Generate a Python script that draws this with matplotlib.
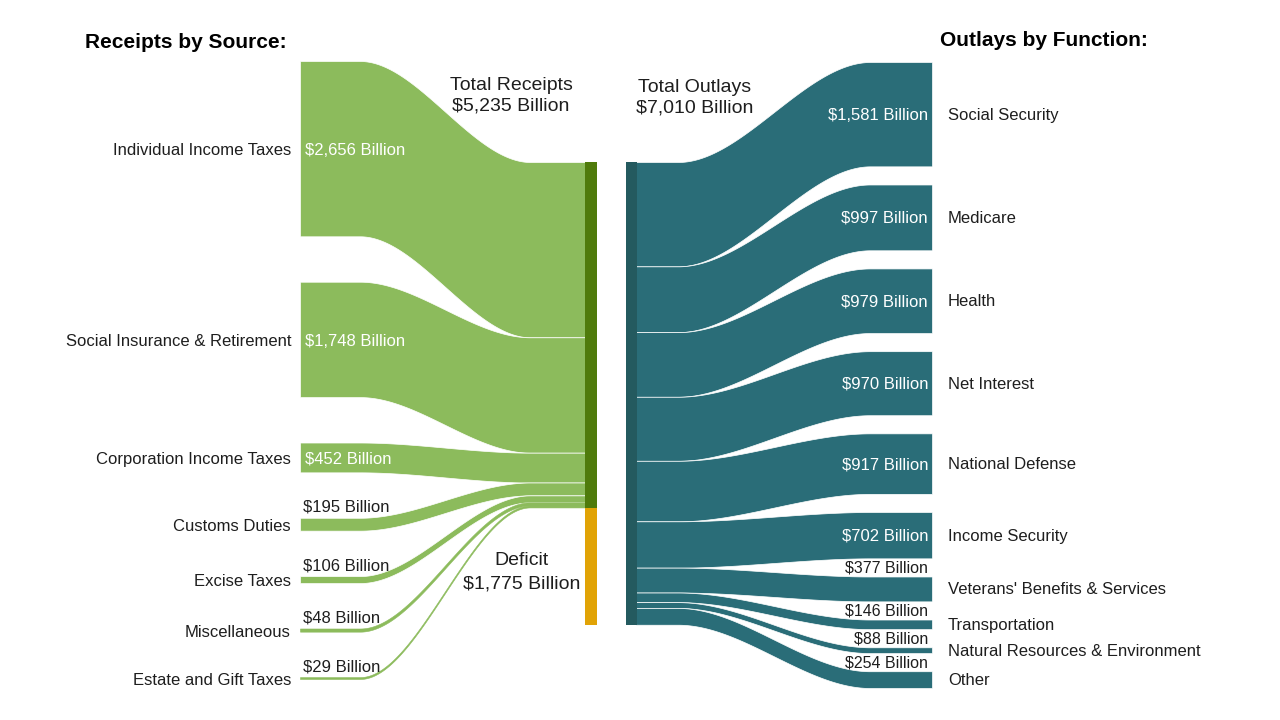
import numpy as np
import matplotlib
matplotlib.use('Agg')
import matplotlib.pyplot as plt

plt.rcParams['font.family'] = ['Liberation Sans', 'DejaVu Sans']

# data (billions of dollars)
receipt_labels = ['Individual Income Taxes', 'Social Insurance & Retirement', 'Corporation Income Taxes',
                  'Customs Duties', 'Excise Taxes', 'Miscellaneous', 'Estate and Gift Taxes']
receipt_values = [2656, 1748, 452, 195, 106, 48, 29]

outlay_labels = ['Social Security', 'Medicare', 'Health', 'Net Interest', 'National Defense',
                 'Income Security', "Veterans' Benefits & Services", 'Transportation',
                 'Natural Resources & Environment', 'Other']
outlay_values = [1581, 997, 979, 970, 917, 702, 377, 146, 88, 254]

total_receipts = 5235
total_outlays = 7010
deficit = 1775

GREEN = '#8cbb5c'
GREEN_BAR = '#4f7b0b'
ORANGE = '#e1a306'
TEAL = '#2a6d78'
TEAL_BAR = '#245a5f'
TXT = '#1e1e1e'

SCALE = 0.066        # pixels per billion
BAR_TOP = 162


def fmt(v):
    return '${:,} Billion'.format(v)


def smooth(x, x0, x1, y0, y1):
    t = np.clip((x - x0) / (x1 - x0), 0, 1)
    t = t * t * (3 - 2 * t)
    return y0 + (y1 - y0) * t


def stack_outer(values, top, bottom):
    h = np.array(values) * SCALE
    gap = (bottom - top - h.sum()) / (len(h) - 1)
    y = top + np.concatenate([[0], np.cumsum(h[:-1])]) + gap * np.arange(len(h))
    return y, h


def stack_bar(values):
    h = np.array(values) * SCALE
    return BAR_TOP + np.concatenate([[0], np.cumsum(h[:-1])])


def band(xs, top, h, color):
    # thin bands get no white outline so they stay visible
    if h > 4:
        ax.fill_between(xs, top, top + h, color=color, edgecolor='white', linewidth=0.5)
    else:
        ax.fill_between(xs, top, top + h, color=color, edgecolor=color, linewidth=0.4)


fig = plt.figure(figsize=(12.8, 7.2), dpi=100)
ax = fig.add_axes([0, 0, 1, 1])
ax.set_xlim(0, 1280)
ax.set_ylim(720, 0)
ax.axis('off')

# receipts side
ly, lh = stack_outer(receipt_values, 61, 679)
lb = stack_bar(receipt_values)
xs = np.linspace(300, 585, 300)
for i, lab in enumerate(receipt_labels):
    top = smooth(xs, 360, 530, ly[i], lb[i])
    band(xs, top, lh[i], GREEN)
    yc = ly[i] + lh[i] / 2
    ax.text(291, yc + 2, lab, ha='right', va='center', fontsize=12, color=TXT)
    if lh[i] > 26:
        ax.text(305, yc + 2, fmt(receipt_values[i]), ha='left', va='center', fontsize=12, color='white')
    else:
        ax.text(303, ly[i] - 3, fmt(receipt_values[i]), ha='left', va='bottom', fontsize=12, color=TXT)

# receipts + deficit bar
rec_h = total_receipts * SCALE
def_h = deficit * SCALE
ax.add_patch(plt.Rectangle((585, BAR_TOP), 12, rec_h, color=GREEN_BAR, linewidth=0))
ax.add_patch(plt.Rectangle((585, BAR_TOP + rec_h), 12, def_h, color=ORANGE, linewidth=0))

# outlays side
ry, rh = stack_outer(outlay_values, 62, 688)
rb = stack_bar(outlay_values)
xs = np.linspace(636, 932, 300)
for i, lab in enumerate(outlay_labels):
    top = smooth(xs, 678, 870, rb[i], ry[i])
    band(xs, top, rh[i], TEAL)
    yc = ry[i] + rh[i] / 2
    ax.text(948, yc + 1, lab, ha='left', va='center', fontsize=12, color=TXT)
    if rh[i] > 26:
        ax.text(928, yc + 1, fmt(outlay_values[i]), ha='right', va='center', fontsize=12, color='white')
    else:
        # small flows: value sits in the gap above the band
        gap_mid = (ry[i - 1] + rh[i - 1] + ry[i]) / 2
        ax.text(928, gap_mid + 1, fmt(outlay_values[i]), ha='right', va='center', fontsize=11.5, color=TXT)

ax.add_patch(plt.Rectangle((626, BAR_TOP), 11, total_outlays * SCALE, color=TEAL_BAR, linewidth=0))

# headings and totals
ax.text(85, 42, 'Receipts by Source:', ha='left', va='center', fontsize=15, fontweight='bold', color='black')
ax.text(940, 40, 'Outlays by Function:', ha='left', va='center', fontsize=15, fontweight='bold', color='black')
ax.text(511, 96, 'Total Receipts\n' + fmt(total_receipts), ha='center', va='center',
        fontsize=14, color=TXT, linespacing=1.25)
ax.text(695, 98, 'Total Outlays\n' + fmt(total_outlays), ha='center', va='center',
        fontsize=14, color=TXT, linespacing=1.25)
ax.text(522, BAR_TOP + rec_h + def_h / 2 + 6, 'Deficit\n' + fmt(deficit), ha='center', va='center',
        fontsize=14, color=TXT, linespacing=1.5)

fig.savefig('out.png', dpi=100, facecolor='white')
